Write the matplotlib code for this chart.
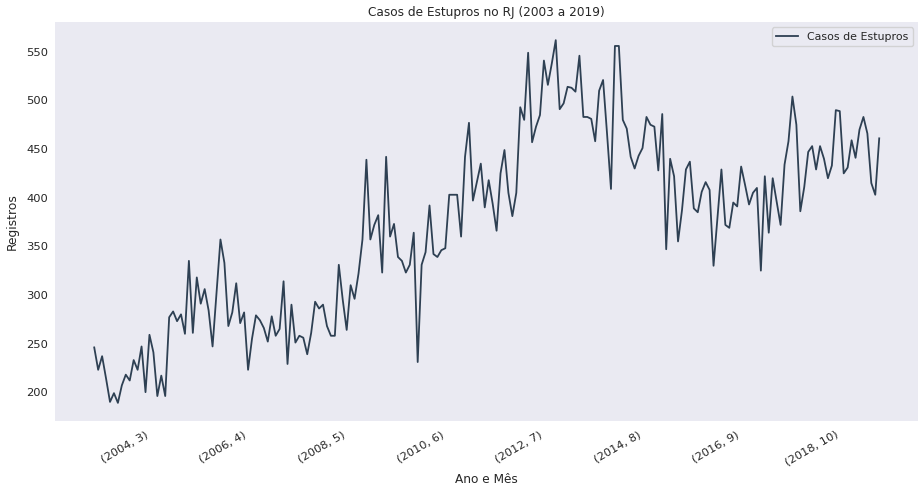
import matplotlib
matplotlib.use("Agg")
import matplotlib.pyplot as plt

start_year = 2003
start_month = 1

casos = [
    246, 223, 237, 214, 190, 199, 189, 207, 218, 212, 233, 223, 247, 200, 259, 241, 196, 217, 196, 277,
    283, 273, 280, 260, 335, 261, 318, 291, 306, 284, 247, 302, 357, 333, 268, 282, 312, 271, 282, 223,
    255, 279, 274, 266, 252, 278, 258, 265, 314, 229, 290, 251, 258, 256, 239, 261, 293, 286, 290, 268,
    258, 258, 331, 295, 264, 310, 296, 322, 357, 439, 357, 372, 382, 323, 442, 360, 373, 339, 335, 323,
    331, 364, 231, 331, 344, 392, 342, 339, 346, 348, 403, 403, 403, 360, 442, 477, 397, 416, 435, 390,
    418, 394, 366, 425, 449, 405, 381, 405, 493, 480, 549, 457, 473, 485, 541, 516, 538, 562, 491, 497,
    514, 513, 509, 546, 483, 483, 481, 458, 510, 521, 466, 409, 556, 556, 480, 471, 442, 430, 443, 451,
    483, 475, 473, 428, 486, 347, 440, 422, 355, 387, 429, 437, 389, 385, 406, 416, 408, 330, 379, 429,
    372, 369, 395, 391, 432, 413, 393, 405, 410, 325, 422, 364, 420, 396, 372, 434, 458, 504, 475, 386,
    411, 447, 453, 429, 453, 440, 420, 433, 490, 489, 425, 431, 459, 441, 470, 483, 466, 415, 403, 461,
]

# (ano, mes) index labels
index_labels = []
for k in range(len(casos)):
    m = start_month - 1 + k
    index_labels.append((start_year + m // 12, m % 12 + 1))

tick_positions = list(range(14, len(casos), 25))
tick_labels = [str(index_labels[p]) for p in tick_positions]

fig = plt.figure(figsize=(9.24, 4.92), dpi=100)
ax = fig.add_axes([0.0595, 0.1443, 0.9345, 0.811])
ax.set_facecolor("#EAEAF2")
for s in ax.spines.values():
    s.set_visible(False)

x = list(range(len(casos)))
ax.plot(x, casos, color="#2e4053", linewidth=1.3, label="Casos de Estupros")
ax.margins(x=0.05, y=0.05)

ax.set_xticks(tick_positions)
ax.set_xticklabels(tick_labels, rotation=30, ha="right", fontsize=8.25, color="#262626")
ax.set_yticks([200, 250, 300, 350, 400, 450, 500, 550])
ax.tick_params(axis="y", labelsize=8.25, labelcolor="#262626", length=0, pad=5)
ax.tick_params(axis="x", length=0, pad=6)

ax.set_title("Casos de Estupros no RJ (2003 a 2019)", fontsize=8.7, color="#262626", pad=4)
ax.set_xlabel("Ano e Mês", fontsize=8.7, color="#262626")
ax.set_ylabel("Registros", fontsize=8.8, color="#262626", labelpad=5)

leg = ax.legend(loc="upper right", fontsize=7.9, frameon=True, facecolor="#EAEAF2", edgecolor="#cccccc")
for t in leg.get_texts():
    t.set_color("#262626")

fig.savefig("out.png", dpi=100)
